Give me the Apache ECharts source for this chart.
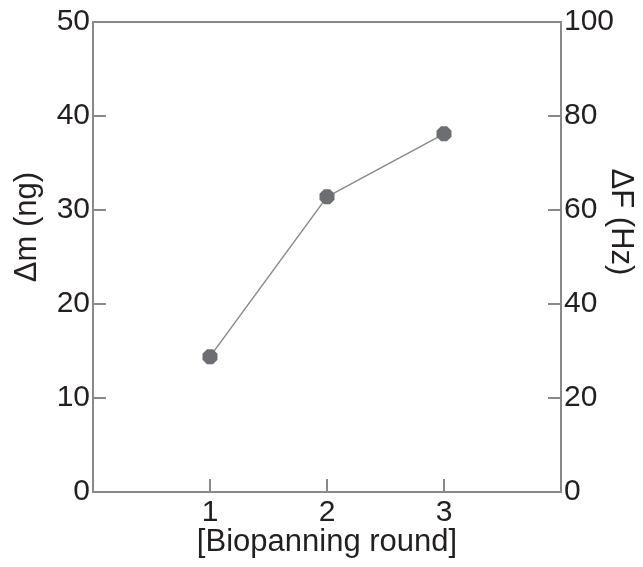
<!DOCTYPE html>
<html>
<head>
<meta charset="utf-8">
<script src="https://cdn.jsdelivr.net/npm/echarts@6/dist/echarts.min.js"></script>
<style>html,body{margin:0;padding:0;background:#fff}#c{width:643px;height:567px}</style>
</head>
<body>
<div id="c"></div>
<script>
const rounds = [1, 2, 3];
const massNg = [14.4, 31.4, 38.1];
const xTickLabels = ['1', '2', '3'];
const leftTicks = [0, 10, 20, 30, 40, 50];
const rightTicks = [0, 20, 40, 60, 80, 100];

const font = 'Liberation Sans, Arial, sans-serif';
const axisCol = '#898989';
const txt = '#231f20';

const chart = echarts.init(document.getElementById('c'));
chart.setOption({
  animation: false,
  grid: { left: 93, right: 82, top: 22, bottom: 75, show: true, borderColor: axisCol, borderWidth: 2,
    containLabel: false, outerBoundsMode: 'none' },
  xAxis: {
    type: 'value', min: 0, max: 4, interval: 1,
    name: '[Biopanning round]', nameLocation: 'middle', nameGap: 35, nameMoveOverlap: false,
    nameTextStyle: { fontFamily: font, fontSize: 31, color: txt },
    axisLine: { show: true, lineStyle: { color: axisCol, width: 2 } },
    axisTick: { show: true, inside: true, length: 13, lineStyle: { color: axisCol, width: 2 } },
    axisLabel: { fontFamily: font, fontSize: 30, color: txt, margin: 6,
      formatter: v => xTickLabels.includes(String(v)) ? String(v) : '' },
    splitLine: { show: false }
  },
  yAxis: [{
    type: 'value', min: leftTicks[0], max: leftTicks[leftTicks.length - 1], interval: 10, position: 'left',
    name: 'Δm (ng)', nameLocation: 'middle', nameGap: 50, nameMoveOverlap: false,
    nameTextStyle: { fontFamily: font, fontSize: 31, color: txt, padding: [0, 0, 0, 60] },
    axisLine: { show: true, lineStyle: { color: axisCol, width: 2 } },
    axisTick: { show: true, inside: true, length: 13, lineStyle: { color: axisCol, width: 2 } },
    axisLabel: { fontFamily: font, fontSize: 30, color: txt, margin: 3 },
    splitLine: { show: false }
  }, {
    type: 'value', min: rightTicks[0], max: rightTicks[rightTicks.length - 1], interval: 20, position: 'right',
    name: 'ΔF (Hz)', nameLocation: 'middle', nameGap: 44, nameRotate: -90, nameMoveOverlap: false,
    nameTextStyle: { fontFamily: font, fontSize: 31, color: txt, padding: [0, 70, 0, 0] },
    axisLine: { show: true, lineStyle: { color: axisCol, width: 2 } },
    axisTick: { show: true, inside: true, length: 13, lineStyle: { color: axisCol, width: 2 } },
    axisLabel: { fontFamily: font, fontSize: 30, color: txt, margin: 3 },
    splitLine: { show: false }
  }],
  series: [{
    type: 'line', yAxisIndex: 0,
    data: rounds.map((r, i) => [r, massNg[i]]),
    symbol: 'path://M3,0 L7,0 L10,3 L10,7 L7,10 L3,10 L0,7 L0,3 Z', symbolSize: 15,
    itemStyle: { color: '#6d6e71' },
    lineStyle: { color: '#8a8a8a', width: 1.5 }
  }]
});
</script>
</body>
</html>
